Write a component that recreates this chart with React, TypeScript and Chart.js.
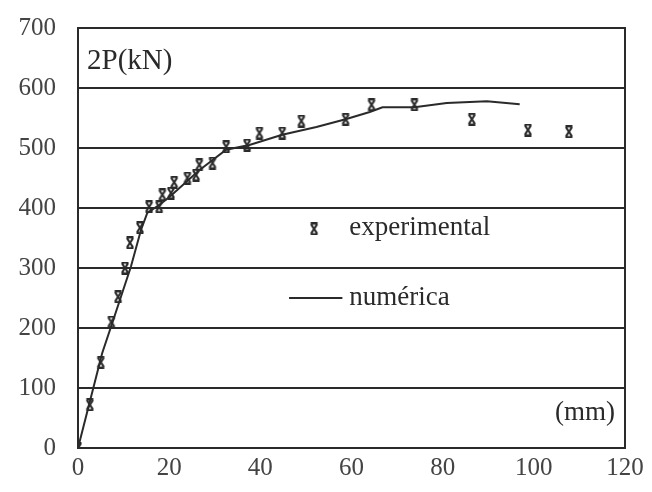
import React, { useEffect, useRef } from 'react';
import { Chart, registerables } from 'chart.js';

Chart.register(...registerables);

const expX = [0, 2.6, 5.0, 7.3, 8.8, 10.3, 11.4, 13.6, 15.6, 17.8, 18.5, 20.4, 21.1, 24.0, 25.9, 26.6, 29.5, 32.5, 37.1, 39.8, 44.8, 49.0, 58.7, 64.4, 73.8, 86.4, 98.7, 107.7];
const expY = [0, 72, 143, 210, 252, 300, 342, 367, 402, 402, 422, 425, 443, 450, 455, 472, 475, 502, 505, 525, 525, 545, 548, 572, 572, 548, 530, 527];

const numX = [0, 5.3, 7.5, 11.6, 13.8, 15.2, 17.8, 20, 26.6, 32.5, 37.6, 44.8, 52.3, 58.7, 64, 66.8, 73.8, 80.9, 89.7, 96.9];
const numY = [0, 158, 208, 302, 363, 392, 405, 418, 463, 497, 505, 522, 535, 548, 560, 568, 568, 575, 578, 573];

const xTicks = [0, 20, 40, 60, 80, 100, 120];
const yTicks = [0, 100, 200, 300, 400, 500, 600, 700];

const yLabel = '2P(kN)';
const xLabel = '(mm)';
const expName = 'experimental';
const numName = 'numérica';

const FONT = "'Liberation Serif', serif";
const INK = '#2a2a2a';

function makeMarker(): HTMLCanvasElement {
  const c = document.createElement('canvas');
  c.width = 12;
  c.height = 13;
  const g = c.getContext('2d')!;
  g.strokeStyle = INK;
  g.lineWidth = 2.2;
  g.beginPath();
  g.moveTo(3, 2); g.lineTo(9, 11);
  g.moveTo(9, 2); g.lineTo(3, 11);
  g.moveTo(2.5, 1.2); g.lineTo(9.5, 1.2);
  g.moveTo(2.5, 11.8); g.lineTo(9.5, 11.8);
  g.stroke();
  return c;
}

export default function App() {
  const ref = useRef<HTMLCanvasElement | null>(null);

  useEffect(() => {
    if (!ref.current) return;
    const marker = makeMarker();

    const annot = {
      id: 'annot',
      afterDraw(chart: any) {
        const { ctx, chartArea, scales } = chart;
        const xs = scales.x, ys = scales.y;
        ctx.save();
        ctx.strokeStyle = INK;
        ctx.lineWidth = 2;
        ctx.beginPath();
        ctx.moveTo(chartArea.right, chartArea.top - 1);
        ctx.lineTo(chartArea.right, chartArea.bottom + 1);
        ctx.stroke();

        ctx.fillStyle = INK;
        ctx.textBaseline = 'middle';
        ctx.textAlign = 'left';
        ctx.font = `29px ${FONT}`;
        ctx.fillText(yLabel, chartArea.left + 9, ys.getPixelForValue(645));
        ctx.font = `27px ${FONT}`;
        ctx.textAlign = 'right';
        ctx.fillText(xLabel, chartArea.right - 10, ys.getPixelForValue(58));

        ctx.textAlign = 'left';
        const ly1 = ys.getPixelForValue(366);
        ctx.drawImage(marker, xs.getPixelForValue(51.8) - 6, ly1 - 6);
        ctx.fillText(expName, xs.getPixelForValue(59.5), ly1);
        const ly2 = ys.getPixelForValue(250);
        ctx.beginPath();
        ctx.lineWidth = 2;
        ctx.moveTo(xs.getPixelForValue(46.3), ly2);
        ctx.lineTo(xs.getPixelForValue(58), ly2);
        ctx.stroke();
        ctx.fillText(numName, xs.getPixelForValue(59.5), ly2);
        ctx.restore();
      },
    };

    const chart = new Chart(ref.current, {
      type: 'scatter',
      data: {
        datasets: [
          {
            label: numName,
            data: numX.map((x, i) => ({ x, y: numY[i] })),
            showLine: true,
            borderColor: INK,
            borderWidth: 2,
            pointRadius: 0,
            tension: 0,
          },
          {
            label: expName,
            data: expX.map((x, i) => ({ x, y: expY[i] })),
            showLine: false,
            pointStyle: marker as any,
            pointRadius: 6,
          },
        ],
      },
      options: {
        responsive: false,
        animation: false,
        layout: { padding: { top: 28, right: 27, left: 0, bottom: 0 } },
        plugins: { legend: { display: false }, tooltip: { enabled: false } },
        scales: {
          x: {
            type: 'linear',
            min: 0,
            max: 120,
            afterBuildTicks: (s: any) => { s.ticks = xTicks.map((v) => ({ value: v })); },
            afterFit: (s: any) => { s.height = 44; s.paddingLeft = 0; s.paddingRight = 0; },
            grid: { display: false, drawTicks: false },
            border: { display: true, color: INK, width: 2 },
            ticks: { color: '#444', font: { family: FONT, size: 25 }, padding: 5, maxRotation: 0 },
          },
          y: {
            type: 'linear',
            min: 0,
            max: 700,
            afterBuildTicks: (s: any) => { s.ticks = yTicks.map((v) => ({ value: v })); },
            afterFit: (s: any) => { s.width = 78; s.paddingTop = 0; s.paddingBottom = 0; },
            grid: { display: true, color: INK, lineWidth: 2, drawTicks: false },
            border: { display: true, color: INK, width: 2 },
            ticks: { color: '#444', font: { family: FONT, size: 25 }, padding: 22 },
          },
        },
      },
      plugins: [annot],
    });
    return () => chart.destroy();
  }, []);

  return (
    <div style={{ position: 'fixed', left: 0, top: 0, width: 652, height: 492, background: '#fff' }}>
      <canvas ref={ref} width={652} height={492} />
    </div>
  );
}
